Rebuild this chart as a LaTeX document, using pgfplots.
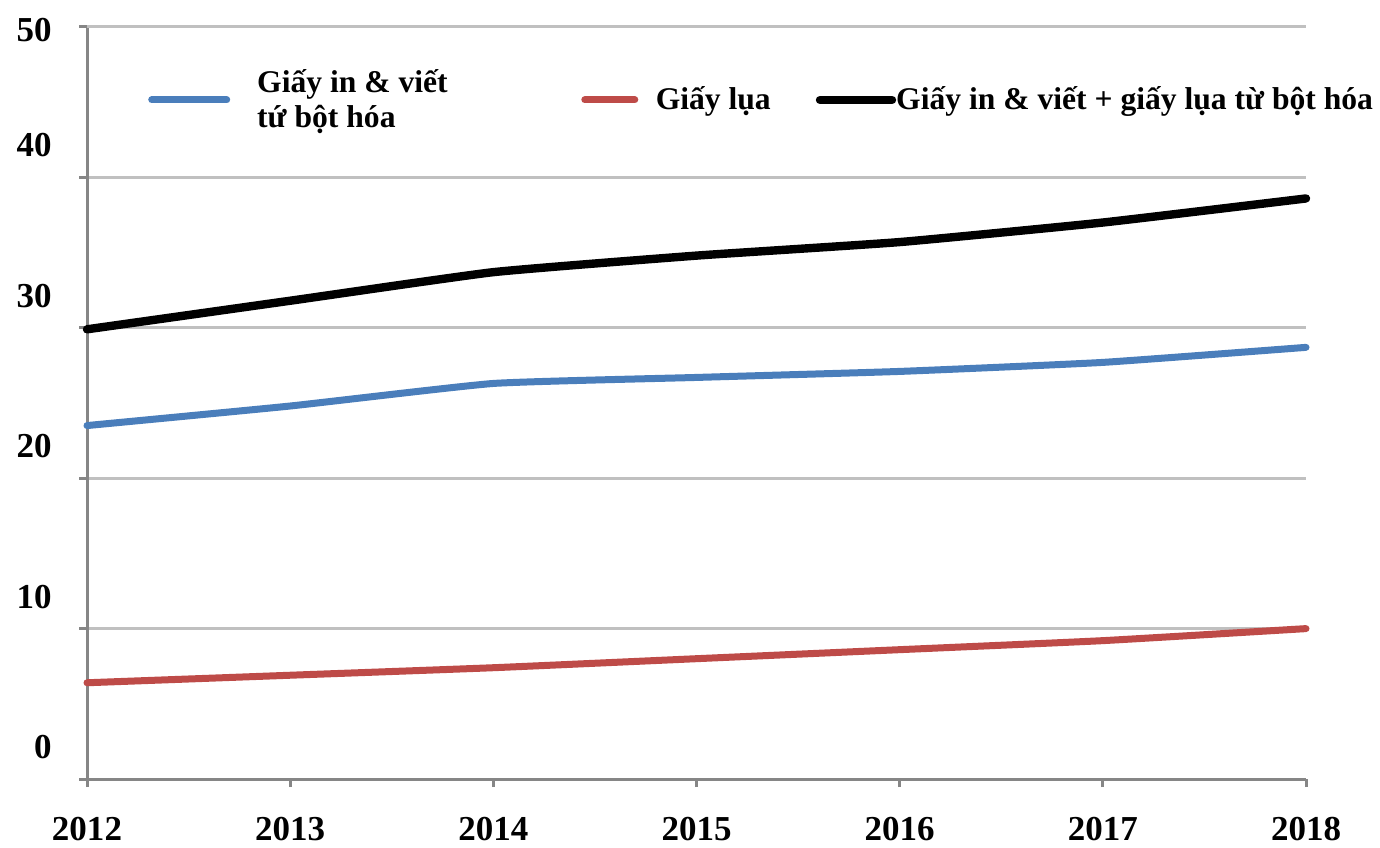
\documentclass[border=0pt]{standalone}
\usepackage{pgfplots}
\pgfplotsset{compat=1.18}
\usepackage{fontspec}
\setmainfont{Liberation Serif}
\definecolor{cblue}{HTML}{4A7EBB}
\definecolor{cred}{HTML}{BE4B48}
\definecolor{cgrid}{HTML}{C0C0C0}
\definecolor{caxis}{HTML}{868686}
\begin{document}
\begin{tikzpicture}
\begin{axis}[
  scale only axis,
  width=609.5pt, height=376pt,
  xmin=2012, xmax=2018, ymin=0, ymax=50,
  clip=false,
  axis lines*=left,
  axis line style={caxis, line width=1.5pt},
  xtick={2012,2013,2014,2015,2016,2017,2018},
  xticklabels={2012,2013,2014,2015,2016,2017,2018},
  ytick={0,10,20,30,40},
  yticklabels={0,10,20,30,40},
  extra y ticks={50}, extra y tick labels={50},
  extra y tick style={grid=major, yticklabel style={yshift=-17.5pt}},
  ymajorgrids=true,
  major grid style={cgrid, line width=1.5pt},
  tick align=outside,
  major tick length=4pt,
  tick style={caxis, line width=1.5pt},
  ticklabel style={font=\fontsize{17.5}{20}\selectfont\bfseries},
  yticklabel style={anchor=east, inner sep=0pt, xshift=-13.5pt, yshift=16pt},
  xticklabel style={anchor=center, inner sep=0pt, yshift=-21pt},
  legend columns=3,
  legend cell align=left,
  legend style={draw=none, fill=none, inner sep=0pt, row sep=0pt,
    at={(rel axis cs:0.0499,0.903)}, anchor=west,
    font=\fontsize{15.8}{17.5}\selectfont\bfseries,
    nodes={inner sep=0pt, align=left},
    cells={align=left},
    /tikz/column 1/.style={column sep=13.5pt},
    /tikz/column 2/.style={column sep=66.8pt},
    /tikz/column 3/.style={column sep=8.75pt},
    /tikz/column 4/.style={column sep=22.5pt},
    /tikz/column 5/.style={column sep=0pt}},
]
\addplot[cblue, line width=3.5pt, line cap=round, smooth, tension=0.25,
  legend image code/.code={\draw[cblue, line width=3.5pt, line cap=round] (0pt,0pt) -- (37.5pt,0pt);}]
  coordinates {(2012,23.5) (2013,24.8) (2014,26.3) (2015,26.7) (2016,27.1) (2017,27.7) (2018,28.7)};
\addlegendentry{Giấy in \& viết\\tứ bột hóa}
\addplot[cred, line width=3.5pt, line cap=round, smooth, tension=0.25,
  legend image code/.code={\draw[cred, line width=3.5pt, line cap=round] (0pt,0pt) -- (25pt,0pt);}]
  coordinates {(2012,6.4) (2013,6.9) (2014,7.4) (2015,8.0) (2016,8.6) (2017,9.2) (2018,10.0)};
\addlegendentry{Giấy lụa}
\addplot[black, line width=4.2pt, line cap=round, smooth, tension=0.25,
  legend image code/.code={\draw[black, line width=4.2pt, line cap=round] (0pt,0pt) -- (36pt,0pt);}]
  coordinates {(2012,29.9) (2013,31.8) (2014,33.7) (2015,34.8) (2016,35.7) (2017,37.0) (2018,38.6)};
\addlegendentry{Giấy in \& viết + giấy lụa từ bột hóa}
\end{axis}
\pgfresetboundingbox
\path ([xshift=-43.5pt,yshift=-34pt]current axis.south west) rectangle ([xshift=37pt,yshift=13.5pt]current axis.north east);
\end{tikzpicture}
\end{document}
